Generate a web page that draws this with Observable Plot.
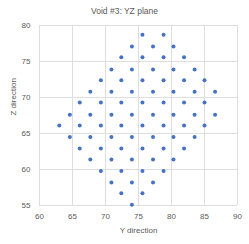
<!DOCTYPE html>
<html>
<head>
<meta charset="utf-8">
<script src="https://cdn.jsdelivr.net/npm/d3@7"></script>
<script src="https://cdn.jsdelivr.net/npm/@observablehq/plot@0.6"></script>
<style>
  body { margin: 0; background: #fff; font-family: "Liberation Sans", Arial, sans-serif; }
  #title { height: 18px; padding-top: 0; font-size: 8.5px; line-height: 22px; text-align: center; color: #595959; width: 249px; }
</style>
</head>
<body>
<div id="title">Void #3: YZ plane</div>
<div id="chart"></div>
<script>
// Z level of each row of voxels (top to bottom)
const zRows = [78.7, 77.1, 75.6, 73.9, 72.4, 70.8, 69.3, 67.6, 66.1, 64.5, 62.9, 61.4, 59.8, 58.2, 56.7, 55.1];
// Y positions of the points in each row
const yRows = [
  [75.6, 78.8],
  [74.0, 77.2, 80.3],
  [72.4, 75.6, 78.8, 81.9],
  [70.9, 74.0, 77.2, 80.3, 83.5],
  [69.3, 72.4, 75.6, 78.8, 81.9, 85.0],
  [67.7, 70.9, 74.0, 77.2, 80.3, 83.5, 86.6],
  [66.1, 69.3, 72.4, 75.6, 78.8, 81.9, 85.0],
  [64.6, 67.7, 70.9, 74.0, 77.2, 80.3, 83.5, 86.6],
  [63.0, 66.1, 69.3, 72.4, 75.6, 78.8, 81.9, 85.0],
  [64.6, 67.7, 70.9, 74.0, 77.2, 80.3, 83.5],
  [66.1, 69.3, 72.4, 75.6, 78.8, 81.9],
  [67.7, 70.9, 74.0, 77.2, 80.3],
  [69.3, 72.4, 75.6, 78.8],
  [70.9, 74.0, 77.2],
  [72.4, 75.6],
  [74.0]
];
const xTicks = [60, 65, 70, 75, 80, 85, 90];
const yTicks = [55, 60, 65, 70, 75, 80];

const points = yRows.flatMap((row, i) => row.map(y => ({Y: y, Z: zRows[i]})));

const chart = Plot.plot({
  width: 249,
  height: 226,
  marginTop: 7,
  marginBottom: 39,
  marginLeft: 39,
  marginRight: 12,
  style: {fontFamily: "Liberation Sans, Arial, sans-serif", fontSize: "8px", color: "#595959", background: "#fff"},
  x: {domain: [60, 90], ticks: xTicks, label: null},
  y: {domain: [55, 80], ticks: yTicks, label: null},
  marks: [
    Plot.gridX(xTicks, {stroke: "#dedede", strokeOpacity: 1, strokeWidth: 1}),
    Plot.gridY(yTicks, {stroke: "#dedede", strokeOpacity: 1, strokeWidth: 1}),
    Plot.axisX(xTicks, {tickSize: 0, tickPadding: 8, fill: "#595959", fontSize: 8}),
    Plot.axisY(yTicks, {tickSize: 0, tickPadding: 9, fill: "#595959", fontSize: 8}),
    Plot.text(["Y direction"], {frameAnchor: "bottom", dy: 27, fill: "#595959", fontSize: 8}),
    Plot.text(["Z direction"], {frameAnchor: "left", dx: -26, rotate: -90, fill: "#595959", fontSize: 8}),
    Plot.dot(points, {x: "Y", y: "Z", r: 2, fill: "#4472C4", stroke: "none"})
  ]
});
document.getElementById("chart").appendChild(chart);
</script>
</body>
</html>
